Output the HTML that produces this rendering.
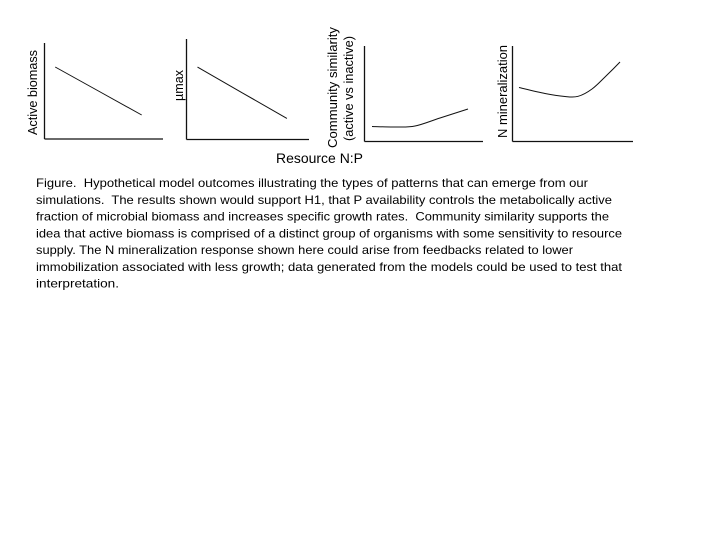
<!DOCTYPE html>
<html lang="en">
<head>
<meta charset="utf-8">
<title>Hypothetical model outcomes</title>
<style>
html,body{margin:0;padding:0;background:#fff;width:720px;height:540px;overflow:hidden}
svg{display:block}
text{font-family:"Liberation Sans",sans-serif;fill:#000}
.label{font-size:13px}
.cap{font-size:12px;white-space:pre}
</style>
</head>
<body>
<svg id="figure" width="720" height="540" viewBox="0 0 720 540" xmlns="http://www.w3.org/2000/svg">
  <rect width="720" height="540" fill="#fff"/>
  <g id="charts"></g>

  <text class="label" transform="translate(37,135) rotate(-90)" textLength="85" lengthAdjust="spacingAndGlyphs">Active biomass</text>
  <text class="label" transform="translate(183,101) rotate(-90)" textLength="31" lengthAdjust="spacingAndGlyphs">µmax</text>
  <text class="label" transform="translate(337,148) rotate(-90)" textLength="121" lengthAdjust="spacingAndGlyphs">Community similarity</text>
  <text class="label" transform="translate(353,141) rotate(-90)" textLength="105" lengthAdjust="spacingAndGlyphs">(active vs inactive)</text>
  <text class="label" transform="translate(507,138) rotate(-90)" textLength="93" lengthAdjust="spacingAndGlyphs">N mineralization</text>
  <text x="276" y="163" font-size="14" textLength="87" lengthAdjust="spacingAndGlyphs">Resource N:P</text>

  <g>
    <text class="cap" x="36" y="187" textLength="552" lengthAdjust="spacingAndGlyphs">Figure.  Hypothetical model outcomes illustrating the types of patterns that can emerge from our</text>
    <text class="cap" x="36" y="204" textLength="576" lengthAdjust="spacingAndGlyphs">simulations.  The results shown would support H1, that P availability controls the metabolically active</text>
    <text class="cap" x="36" y="220.500" textLength="573" lengthAdjust="spacingAndGlyphs">fraction of microbial biomass and increases specific growth rates.  Community similarity supports the</text>
    <text class="cap" x="36" y="237.500" textLength="586" lengthAdjust="spacingAndGlyphs">idea that active biomass is comprised of a distinct group of organisms with some sensitivity to resource</text>
    <text class="cap" x="36" y="254" textLength="537" lengthAdjust="spacingAndGlyphs">supply. The N mineralization response shown here could arise from feedbacks related to lower</text>
    <text class="cap" x="36" y="271" textLength="586" lengthAdjust="spacingAndGlyphs">immobilization associated with less growth; data generated from the models could be used to test that</text>
    <text class="cap" x="36" y="287.500" textLength="83" lengthAdjust="spacingAndGlyphs">interpretation.</text>
  </g>
</svg>
<script>
// Series values on a 0-100 hypothetical scale (x = resource N:P, y = response)
const activeBiomassX = [9, 82];
const activeBiomassY = [75, 25];
const muMaxX = [9, 82];
const muMaxY = [72, 21];
const similarityX = [6.3, 25.7, 42.6, 63.7, 87.3];
const similarityY = [15.7, 15.2, 16.2, 24.6, 34];
const mineralizationX = [5.4, 27, 43.6, 54.4, 66, 77.6, 89.2];
const mineralizationY = [56.5, 50.3, 47.1, 47.3, 55, 68.6, 83.2];

const SVG_NS = 'http://www.w3.org/2000/svg';
const host = document.getElementById('charts');

function xScale(frame, v) {
  return frame.left + (v / 100) * (frame.right - frame.left);
}
function yScale(frame, v) {
  return frame.bottom - (v / 100) * (frame.bottom - frame.top);
}
function smoothPath(pts) {
  let d = 'M' + pts[0][0].toFixed(1) + ' ' + pts[0][1].toFixed(1);
  for (let i = 0; i < pts.length - 1; i++) {
    const p0 = pts[Math.max(i - 1, 0)];
    const p1 = pts[i];
    const p2 = pts[i + 1];
    const p3 = pts[Math.min(i + 2, pts.length - 1)];
    const c1x = p1[0] + (p2[0] - p0[0]) / 6;
    const c1y = p1[1] + (p2[1] - p0[1]) / 6;
    const c2x = p2[0] - (p3[0] - p1[0]) / 6;
    const c2y = p2[1] - (p3[1] - p1[1]) / 6;
    d += ' C' + c1x.toFixed(1) + ' ' + c1y.toFixed(1) + ' ' + c2x.toFixed(1) + ' ' + c2y.toFixed(1) + ' ' + p2[0].toFixed(1) + ' ' + p2[1].toFixed(1);
  }
  return d;
}
function addLine(parent, x1, y1, x2, y2) {
  const l = document.createElementNS(SVG_NS, 'line');
  l.setAttribute('x1', x1);
  l.setAttribute('y1', y1);
  l.setAttribute('x2', x2);
  l.setAttribute('y2', y2);
  l.setAttribute('stroke', '#111');
  l.setAttribute('stroke-width', '1.3');
  parent.appendChild(l);
  return l;
}
function drawPanel(frame, xs, ys) {
  const g = document.createElementNS(SVG_NS, 'g');
  
  
  host.appendChild(g);

  const yAxis = addLine(g, frame.left, frame.top, frame.left, frame.bottom);
  
  

  const xAxis = addLine(g, frame.left, frame.bottom, frame.right, frame.bottom);
  
  

  const pts = xs.map((v, i) => [xScale(frame, v), yScale(frame, ys[i])]);
  const p = document.createElementNS(SVG_NS, 'path');
  p.setAttribute('d', smoothPath(pts));
  p.setAttribute('fill', 'none');
  p.setAttribute('stroke', '#111');
  p.setAttribute('stroke-width', '1');
  
  
  g.appendChild(p);
}

drawPanel({name: 'active-biomass', left: 44.5, right: 163, top: 43, bottom: 139}, activeBiomassX, activeBiomassY);
drawPanel({name: 'mumax', left: 186.5, right: 309, top: 39, bottom: 139.5}, muMaxX, muMaxY);
drawPanel({name: 'community-similarity', left: 364.5, right: 483, top: 46, bottom: 141.5}, similarityX, similarityY);
drawPanel({name: 'n-mineralization', left: 512.5, right: 633, top: 46, bottom: 141.5}, mineralizationX, mineralizationY);
</script>
</body>
</html>
